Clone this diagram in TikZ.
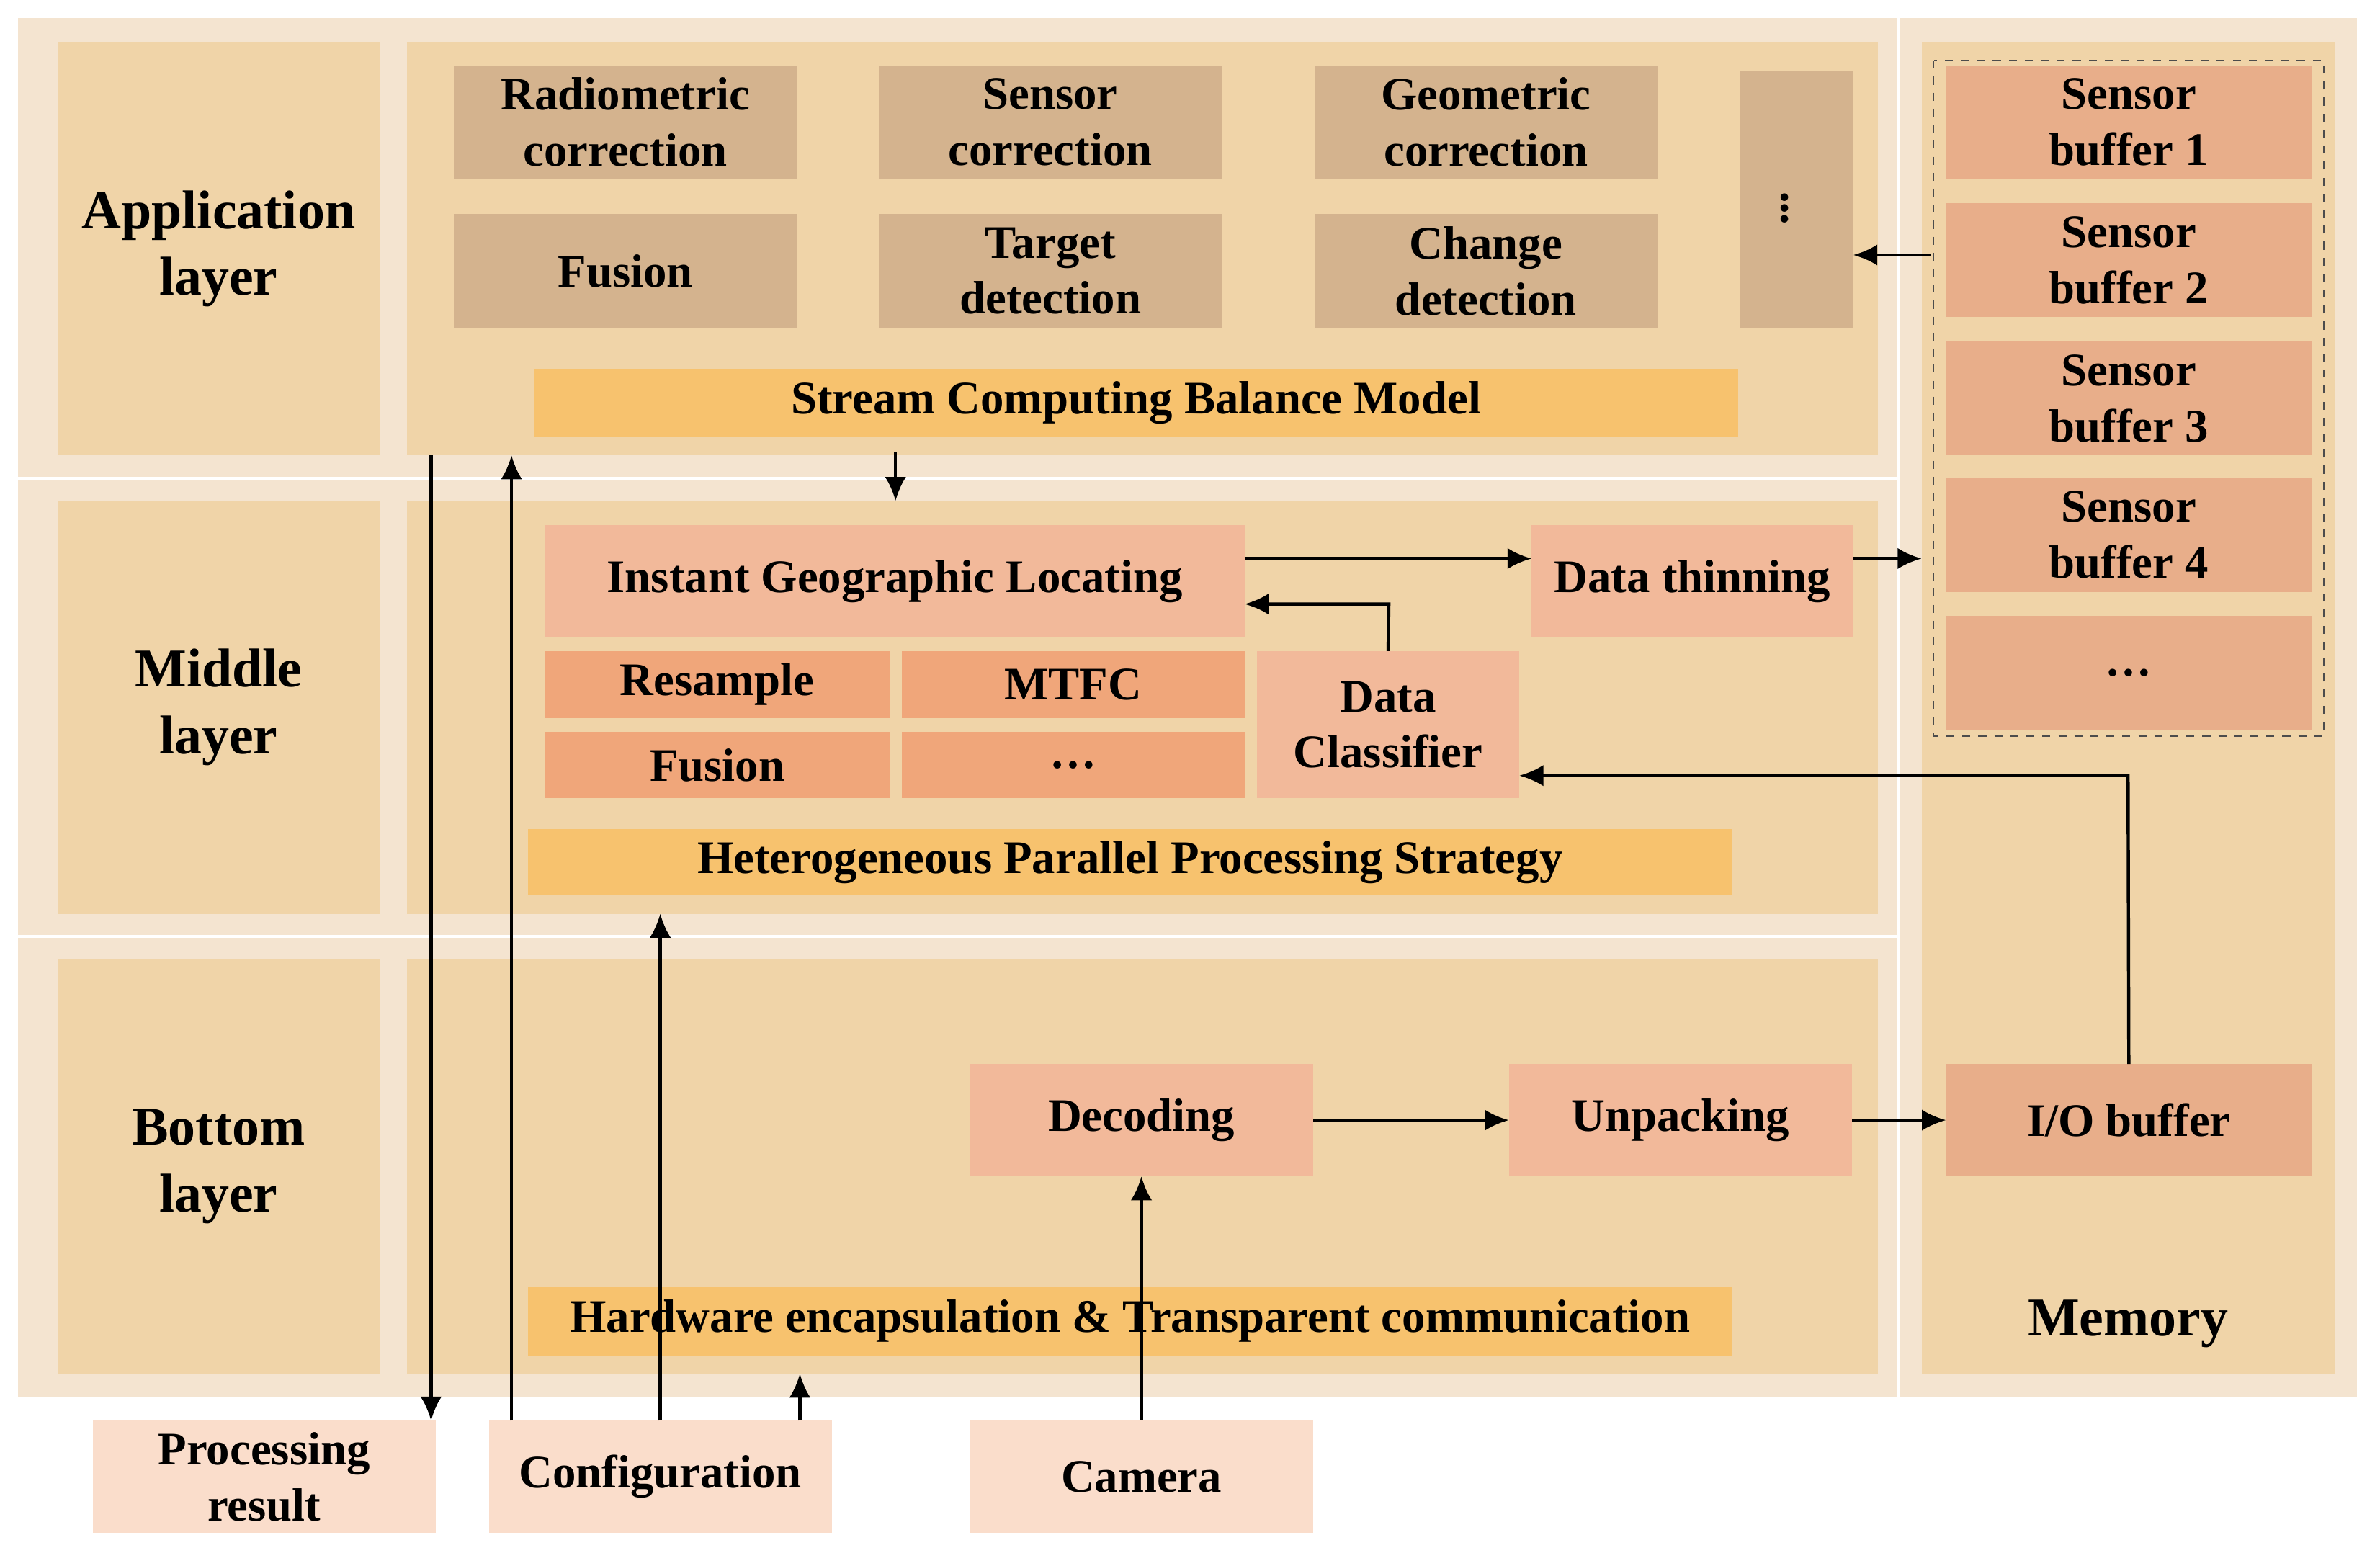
\documentclass[tikz,border=0pt]{standalone}
\usepackage{fontspec}
\setmainfont{Liberation Serif}
\usetikzlibrary{arrows.meta}
\definecolor{bgc}{HTML}{F4E4D0}
\definecolor{layc}{HTML}{F0D4A8}
\definecolor{greyc}{HTML}{D4B38E}
\definecolor{barc}{HTML}{F7C26E}
\definecolor{pinkc}{HTML}{F2B99A}
\definecolor{orc}{HTML}{F0A67A}
\definecolor{bufc}{HTML}{E8AE8A}
\definecolor{lightc}{HTML}{FADDCB}
\tikzset{bx/.style={inner sep=0pt,outer sep=0pt,align=center,font=\fontsize{17.5}{21}\selectfont\bfseries},
big/.style={font=\fontsize{20.5}{25}\selectfont\bfseries},
arr/.style={line width=1.2pt,-{Latex[length=9pt,width=8pt]}}}
\newcommand{\bx}[8][]{\node[bx,fill=#7,minimum width={(#4-#2)*0.02cm},minimum height={(#5-#3)*0.02cm},#1] (#2) at ({(#3+#5)/2},{(#4+#6)/2}) {#8};}
\renewcommand{\bx}[8][]{\node[bx,fill=#7,minimum width={(#5-#3)*0.02cm},minimum height={(#6-#4)*0.02cm},#1] (#2) at ({(#3+#5)/2},{(#4+#6)/2}) {#8};}
\begin{document}
\begin{tikzpicture}[x=0.02cm,y=-0.02cm]
\useasboundingbox[fill=white] (0,0) rectangle (1568,1023);
\bx{bg}{12}{12}{1553}{920}{bgc}{}
\draw[white,line width=1pt] (12,315)--(1250,315) (12,617)--(1250,617) (1251,12)--(1251,920);
\bx[big]{la}{38}{28}{250}{300}{layc}{Application\\layer}
\bx[big]{lm}{38}{330}{250}{602}{layc}{Middle\\layer}
\bx[big]{lb}{38}{632}{250}{905}{layc}{Bottom\\layer}
\bx{ca}{268}{28}{1237}{300}{layc}{}
\bx{cm}{268}{330}{1237}{602}{layc}{}
\bx{cb}{268}{632}{1237}{905}{layc}{}
\bx{mem}{1266}{28}{1538}{905}{layc}{}
\node[bx,big] (memlbl) at (1402,872) {Memory};
\bx{rad}{299}{43}{525}{118}{greyc}{Radiometric\\correction}
\bx{sen}{579}{43}{805}{118}{greyc}{Sensor\\correction}
\bx{geo}{866}{43}{1092}{118}{greyc}{Geometric\\correction}
\bx{fus}{299}{141}{525}{216}{greyc}{Fusion}
\bx{tar}{579}{141}{805}{216}{greyc}{Target\\detection}
\bx{chg}{866}{141}{1092}{216}{greyc}{Change\\detection}
\bx{dots}{1146}{47}{1221}{216}{greyc}{}
\node[bx] (vd) at (1176,132) {$\vdots$};
\bx{scb}{352}{243}{1145}{288}{barc}{Stream Computing Balance Model}
\bx{igl}{359}{346}{820}{420}{pinkc}{Instant Geographic Locating}
\bx{dth}{1009}{346}{1221}{420}{pinkc}{Data thinning}
\bx{res}{359}{429}{586}{473}{orc}{Resample}
\bx{mtf}{594}{429}{820}{473}{orc}{MTFC}
\bx{fu2}{359}{482}{586}{526}{orc}{Fusion}
\bx{md}{594}{482}{820}{526}{orc}{\dots}
\bx{dcl}{828}{429}{1001}{526}{pinkc}{Data\\Classifier}
\bx{hpp}{348}{546}{1141}{590}{barc}{Heterogeneous Parallel Processing Strategy}
\bx{dec}{639}{701}{865}{775}{pinkc}{Decoding}
\bx{unp}{994}{701}{1220}{775}{pinkc}{Unpacking}
\bx{iob}{1282}{701}{1523}{775}{bufc}{I/O buffer}
\bx{hw}{348}{848}{1141}{893}{barc}{Hardware encapsulation \& Transparent communication}
\draw[dashed,gray!60!black,line width=0.5pt] (1274,40) rectangle (1531,485);
\bx{sb1}{1282}{43}{1523}{118}{bufc}{Sensor\\buffer 1}
\bx{sb2}{1282}{134}{1523}{209}{bufc}{Sensor\\buffer 2}
\bx{sb3}{1282}{225}{1523}{300}{bufc}{Sensor\\buffer 3}
\bx{sb4}{1282}{315}{1523}{390}{bufc}{Sensor\\buffer 4}
\bx{sb5}{1282}{406}{1523}{481}{bufc}{\dots}
\bx{pr}{61}{936}{287}{1010}{lightc}{Processing\\result}
\bx{cfg}{322}{936}{548}{1010}{lightc}{Configuration}
\bx{cam}{639}{936}{865}{1010}{lightc}{Camera}
\coordinate (p1) at (284,300); \coordinate (p2) at (337,300);
\coordinate (sc) at (590,298); \coordinate (mp) at (1266,368);
\coordinate (mt) at (1272,168);
\draw[arr] (p1) -- (pr.north -| p1);
\draw[arr] (cfg.north -| p2) -- (p2);
\draw[arr] (sc) -- (590,330);
\draw[arr] (igl.east |- 0,368) -- (dth.west |- 0,368);
\draw[arr] (dth.east |- 0,368) -- (mp);
\draw[arr] (dcl.north) -- (915,398) -- (igl.east |- 0,398);
\draw[arr] (iob.north) -- (1402,511) -- (dcl.east |- 0,511);
\draw[arr] (cfg.north -| 435,0) -- (435,602);
\draw[arr] (cfg.north -| 527,0) -- (527,905);
\draw[arr] (cam.north) -- (dec.south);
\draw[arr] (dec) -- (unp);
\draw[arr] (unp) -- (iob);
\draw[arr] (mt) -- (dots.east |- mt);
\end{tikzpicture}
\end{document}
